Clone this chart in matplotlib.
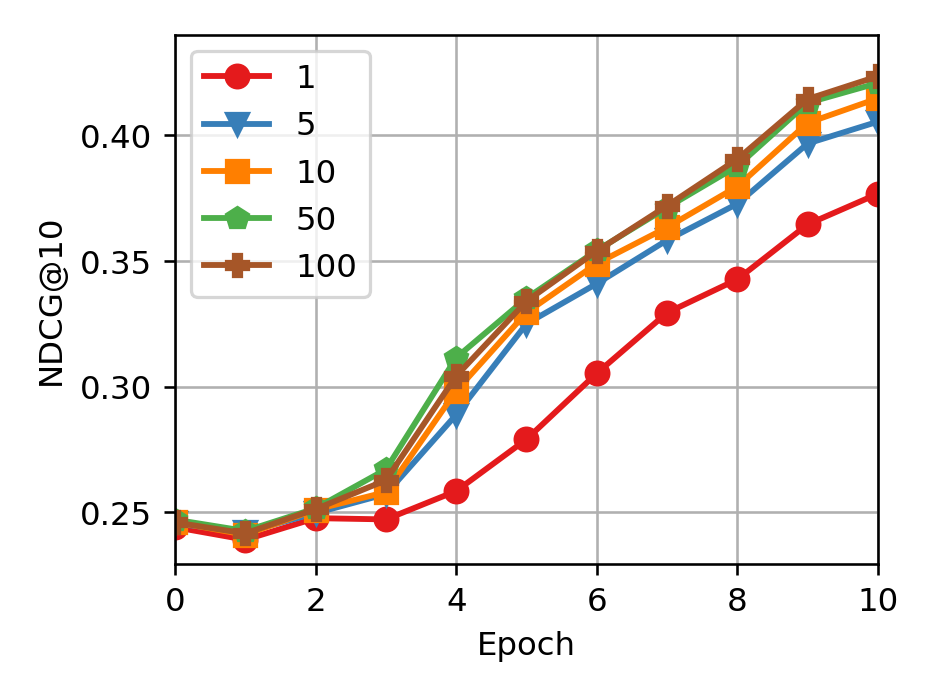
import matplotlib
matplotlib.use("Agg")
import matplotlib.pyplot as plt

# ===========================
# Dados
# ===========================

epocas = [0, 1, 2, 3, 4, 5, 6, 7, 8, 9, 10]

rotulos = ["1", "5", "10", "50", "100"]

ndcg_1 = [0.244, 0.239, 0.2476, 0.2471, 0.2584, 0.2790, 0.3053, 0.3294, 0.3427, 0.3646, 0.3768]
ndcg_5 = [0.2455, 0.2420, 0.2496, 0.2572, 0.2888, 0.3250, 0.3410, 0.3583, 0.3728, 0.3968, 0.4055]
ndcg_10 = [0.2460, 0.2410, 0.2510, 0.2580, 0.2983, 0.3295, 0.3490, 0.3634, 0.3797, 0.4050, 0.4148]
ndcg_50 = [0.2470, 0.2425, 0.2515, 0.2670, 0.3115, 0.3352, 0.3542, 0.3713, 0.3878, 0.4130, 0.4209]
ndcg_100 = [0.2459, 0.2415, 0.2512, 0.2627, 0.3042, 0.3340, 0.3540, 0.3720, 0.3906, 0.4145, 0.4236]

series = [ndcg_1, ndcg_5, ndcg_10, ndcg_50, ndcg_100]

cores = ["#e41a1c", "#377eb8", "#ff7f00", "#4daf4a", "#a65628"]
marcadores = ["o", "v", "s", "p", "P"]

# ===========================
# Gráfico
# ===========================

fig = plt.figure(figsize=(4.0, 3.0), dpi=233.5)
ax = fig.add_axes([0.1874, 0.194, 0.7526, 0.756])

for valores, rotulo, cor, marcador in zip(series, rotulos, cores, marcadores):
    ax.plot(
        epocas,
        valores,
        color=cor,
        marker=marcador,
        markersize=7,
        linewidth=1.8,
        label=rotulo,
    )

ax.set_xlim(0, 10)
ax.set_ylim(0.2293, 0.4402)
ax.set_xticks([0, 2, 4, 6, 8, 10])
ax.set_yticks([0.25, 0.30, 0.35, 0.40])
ax.set_yticklabels(["0.25", "0.30", "0.35", "0.40"])

ax.set_xlabel("Epoch")
ax.set_ylabel("NDCG@10")

ax.grid(True)
ax.set_axisbelow(True)

ax.legend(loc="upper left")

fig.savefig("out.png", dpi=233.5)
